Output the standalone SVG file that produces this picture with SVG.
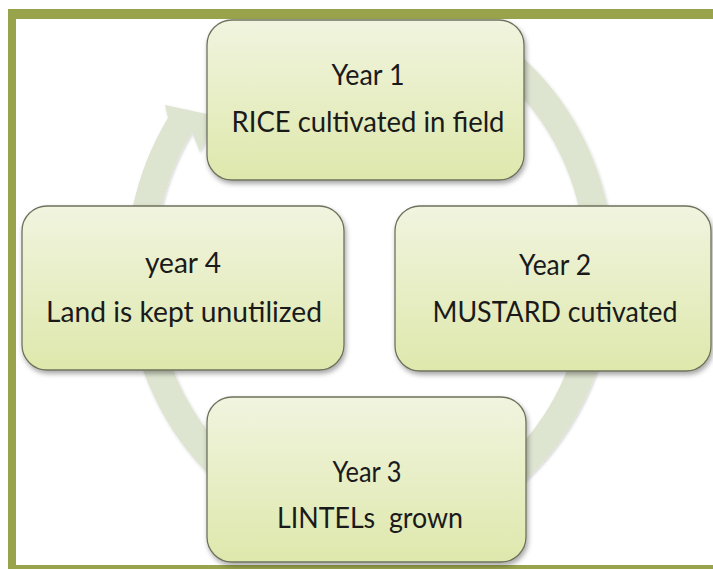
<svg xmlns="http://www.w3.org/2000/svg" width="713" height="569" viewBox="0 0 713 569">
  <defs>
    <linearGradient id="boxFill" x1="0" y1="0" x2="0" y2="1">
      <stop offset="0" stop-color="#f1f4df"/>
      <stop offset="1" stop-color="#dee8ac"/>
    </linearGradient>
    <filter id="shadow" x="-10%" y="-10%" width="120%" height="125%">
      <feDropShadow dx="1.5" dy="3" stdDeviation="2.5" flood-color="#000" flood-opacity="0.35"/>
    </filter>
    <filter id="ringShadow" x="-10%" y="-10%" width="120%" height="120%">
      <feDropShadow dx="1" dy="1.5" stdDeviation="1.5" flood-color="#000" flood-opacity="0.18"/>
    </filter>
  </defs>
  <style>
    .box { fill: url(#boxFill); stroke: #6e725c; stroke-width: 1.3; filter: url(#shadow); }
    .lbl { font-family: Lato, "Liberation Sans", sans-serif; font-size: 28px; fill: #1a1a1a; text-anchor: middle; white-space: pre; }
    .ring { fill: none; stroke: #dde4d0; stroke-width: 28; }
    .frame { fill: #99a34c; }
  </style>
  <rect x="0" y="0" width="713" height="569" fill="#ffffff"/>

  <g id="frame">
    <rect class="frame" x="8" y="9" width="705" height="10"/>
    <rect class="frame" x="8" y="9" width="8" height="560"/>
    <rect class="frame" x="8" y="565" width="705" height="4"/>
  </g>

  <g id="connectors" filter="url(#ringShadow)">
    <path class="ring" d="M 510 65.4 A 230 258 0 1 1 180 125"/>
    <polygon fill="#dde4d0" points="168,118 165,105 216,116 200,152 192,132"/>
  </g>

  <g id="node-year1">
    <rect class="box" x="207" y="20" width="317" height="160" rx="25" ry="25"/>
    <text class="lbl" x="368" y="85" textLength="73" lengthAdjust="spacingAndGlyphs">Year 1</text>
    <text class="lbl" x="368" y="132" textLength="273" lengthAdjust="spacingAndGlyphs">RICE cultivated in field</text>
  </g>

  <g id="node-year2">
    <rect class="box" x="395" y="206" width="316" height="165" rx="25" ry="25"/>
    <text class="lbl" x="555" y="275" textLength="72" lengthAdjust="spacingAndGlyphs">Year 2</text>
    <text class="lbl" x="555" y="322" textLength="245" lengthAdjust="spacingAndGlyphs">MUSTARD cutivated</text>
  </g>

  <g id="node-year3">
    <rect class="box" x="207" y="397" width="319" height="165" rx="25" ry="25"/>
    <text class="lbl" x="367" y="482" textLength="69" lengthAdjust="spacingAndGlyphs">Year 3</text>
    <text class="lbl" x="370" y="528" textLength="186" lengthAdjust="spacingAndGlyphs">LINTELs  grown</text>
  </g>

  <g id="node-year4">
    <rect class="box" x="22" y="206" width="322" height="164" rx="25" ry="25"/>
    <text class="lbl" x="183" y="273" textLength="76" lengthAdjust="spacingAndGlyphs">year 4</text>
    <text class="lbl" x="184" y="322" textLength="276" lengthAdjust="spacingAndGlyphs">Land is kept unutilized</text>
  </g>
</svg>
